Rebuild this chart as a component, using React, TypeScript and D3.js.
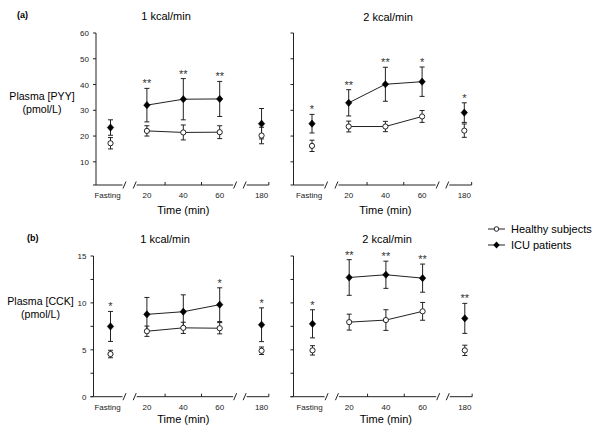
import React from "react";
import * as d3 from "d3";

const timeLabels = ["Fasting", "20", "40", "60", "180"];
const timeSlots = [0, 1, 2, 3, 4.15];

// Panel (a) PYY, 1 kcal/min
const pyy1Healthy = [17.2, 22.0, 21.4, 21.5, 20.2];
const pyy1HealthyErr = [2.2, 2.0, 2.9, 2.5, 3.2];
const pyy1ICU = [23.3, 32.0, 34.3, 34.4, 24.8];
const pyy1ICUErr = [3.0, 6.5, 8.0, 6.8, 5.9];
const pyy1Stars = ["", "**", "**", "**", ""];

// Panel (a) PYY, 2 kcal/min
const pyy2Healthy = [16.2, 23.7, 23.7, 27.6, 22.1];
const pyy2HealthyErr = [2.2, 2.1, 2.0, 2.3, 2.6];
const pyy2ICU = [24.8, 32.9, 40.1, 41.1, 29.1];
const pyy2ICUErr = [3.6, 5.1, 6.6, 5.7, 3.8];
const pyy2Stars = ["*", "**", "**", "*", "*"];

// Panel (b) CCK, 1 kcal/min
const cck1Healthy = [4.55, 6.98, 7.34, 7.3, 4.9];
const cck1HealthyErr = [0.4, 0.55, 0.6, 0.6, 0.4];
const cck1ICU = [7.49, 8.78, 9.06, 9.81, 7.67];
const cck1ICUErr = [1.6, 1.8, 1.8, 1.8, 1.8];
const cck1Stars = ["*", "", "", "*", "*"];

// Panel (b) CCK, 2 kcal/min
const cck2Healthy = [4.94, 7.95, 8.17, 9.1, 4.94];
const cck2HealthyErr = [0.5, 0.85, 1.1, 0.95, 0.55];
const cck2ICU = [7.77, 12.71, 13.0, 12.64, 8.35];
const cck2ICUErr = [1.5, 1.9, 1.45, 1.5, 1.6];
const cck2Stars = ["*", "**", "**", "**", "**"];

const pyyTicks = [10, 20, 30, 40, 50, 60];
const cckTicks = [0, 2.5, 5, 7.5, 10, 12.5, 15];
const cckLabelTicks = [0, 5, 10, 15];

const seriesNames = ["Healthy subjects", "ICU patients"];

const FONT = "'Liberation Sans', Arial, Helvetica, sans-serif";
const INK = "#222";

const yA = d3.scaleLinear().domain([1, 60]).range([185, 33]);
const yB = d3.scaleLinear().domain([0, 15]).range([396.7, 256]);

type PanelCfg = {
  axisX: number;
  fastX: number;
  step: number;
  y: d3.ScaleLinear<number, number>;
  yMin: number;
  ticks: number[];
  labelTicks: number[] | null;
  title: string;
  titleX: number;
  titleY: number;
  timeY: number;
  healthy: number[];
  healthyErr: number[];
  icu: number[];
  icuErr: number[];
  stars: string[];
};

const diamond = "M0,-3.6L3.2,0L0,3.6L-3.2,0Z";

function Panel({ cfg }: { cfg: PanelCfg }) {
  const x = d3
    .scaleLinear()
    .domain([0, 1])
    .range([cfg.fastX, cfg.fastX + cfg.step]);
  const y = cfg.y;
  const axisY = y(cfg.yMin);
  const topY = y(cfg.ticks[cfg.ticks.length - 1]);
  const segs: [number, number][] = [
    [x.invert(cfg.axisX), 0.33],
    [0.72, 3.37],
    [3.74, 4.35],
  ];
  const breaks = [0.33, 0.72, 3.37, 3.74];
  const midIdx = [1, 2, 3];
  const line = d3
    .line<number>()
    .x((i) => x(timeSlots[i]))
    .y((i) => 0);
  const pathFor = (vals: number[]) =>
    d3
      .line<number>()
      .x((i) => x(timeSlots[i]))
      .y((i) => y(vals[i]))(midIdx) || "";
  void line;

  const errBar = (xv: number, v: number, e: number, key: string) => (
    <g key={key} stroke={INK} strokeWidth={1}>
      <line x1={xv} x2={xv} y1={y(v - e)} y2={y(v + e)} />
      <line x1={xv - 2.5} x2={xv + 2.5} y1={y(v + e)} y2={y(v + e)} />
      <line x1={xv - 2.5} x2={xv + 2.5} y1={y(v - e)} y2={y(v - e)} />
    </g>
  );

  return (
    <g>
      {/* y axis */}
      <line x1={cfg.axisX} x2={cfg.axisX} y1={axisY} y2={topY} stroke={INK} strokeWidth={1} />
      {[cfg.yMin, ...cfg.ticks].map((t, i) => (
        <line key={"yt" + i} x1={cfg.axisX - 3} x2={cfg.axisX} y1={y(t)} y2={y(t)} stroke={INK} strokeWidth={1} />
      ))}
      {cfg.labelTicks &&
        cfg.labelTicks.map((t) => (
          <text key={"yl" + t} x={cfg.axisX - 7} y={y(t) + 3} textAnchor="end" fontSize={8} fill={INK} fontFamily={FONT}>
            {t}
          </text>
        ))}
      {/* x axis segments */}
      {segs.map((s, i) => (
        <line key={"seg" + i} x1={i === 0 ? cfg.axisX : x(s[0])} x2={x(s[1])} y1={axisY} y2={axisY} stroke={INK} strokeWidth={1} />
      ))}
      {breaks.map((b, i) => {
        const bx = x(b) + (i % 2 === 0 ? 2 : -2);
        return <line key={"br" + i} x1={bx - 1.5} x2={bx + 1.5} y1={axisY + 3.5} y2={axisY - 3.5} stroke={INK} strokeWidth={1} />;
      })}
      {[1.5, 2.5, 4.35].map((t, i) => (
        <line key={"xt" + i} x1={x(t)} x2={x(t)} y1={axisY} y2={axisY - 3} stroke={INK} strokeWidth={1} />
      ))}
      {timeLabels.map((l, i) => (
        <text
          key={"xl" + i}
          x={x(timeSlots[i]) - (i === 0 ? 3 : 0)}
          y={axisY + 13}
          textAnchor="middle"
          fontSize={8}
          fill={INK}
          fontFamily={FONT}
        >
          {l}
        </text>
      ))}
      <text x={x(2)} y={cfg.timeY} textAnchor="middle" fontSize={11} fill="#000" fontFamily={FONT}>
        Time (min)
      </text>
      <text x={cfg.titleX} y={cfg.titleY} textAnchor="middle" fontSize={11} fill="#000" fontFamily={FONT}>
        {cfg.title}
      </text>
      {/* error bars */}
      {cfg.icu.map((v, i) => errBar(x(timeSlots[i]), v, cfg.icuErr[i], "ie" + i))}
      {cfg.healthy.map((v, i) => errBar(x(timeSlots[i]), v, cfg.healthyErr[i], "he" + i))}
      {/* lines */}
      <path d={pathFor(cfg.icu)} fill="none" stroke={INK} strokeWidth={1} />
      <path d={pathFor(cfg.healthy)} fill="none" stroke={INK} strokeWidth={1} />
      {/* markers */}
      {cfg.icu.map((v, i) => (
        <path key={"im" + i} d={diamond} transform={`translate(${x(timeSlots[i])},${y(v)})`} fill="#000" stroke="#000" strokeWidth={0.6} />
      ))}
      {cfg.healthy.map((v, i) => (
        <circle key={"hm" + i} cx={x(timeSlots[i])} cy={y(v)} r={2.6} fill="#fff" stroke={INK} strokeWidth={1} />
      ))}
      {/* significance */}
      {cfg.stars.map((s, i) =>
        s ? (
          <text
            key={"st" + i}
            x={x(timeSlots[i])}
            y={y(cfg.icu[i] + cfg.icuErr[i]) - 1}
            textAnchor="middle"
            fontSize={11}
            fill="#333"
            fontFamily={FONT}
          >
            {s}
          </text>
        ) : null
      )}
    </g>
  );
}

export default function App() {
  const panels: PanelCfg[] = [
    {
      axisX: 96, fastX: 110.5, step: 36.4, y: yA, yMin: 1, ticks: pyyTicks, labelTicks: pyyTicks,
      title: "1 kcal/min", titleX: 166, titleY: 20, timeY: 214,
      healthy: pyy1Healthy, healthyErr: pyy1HealthyErr, icu: pyy1ICU, icuErr: pyy1ICUErr, stars: pyy1Stars,
    },
    {
      axisX: 293.5, fastX: 312, step: 36.7, y: yA, yMin: 1, ticks: pyyTicks, labelTicks: null,
      title: "2 kcal/min", titleX: 388, titleY: 20.5, timeY: 214,
      healthy: pyy2Healthy, healthyErr: pyy2HealthyErr, icu: pyy2ICU, icuErr: pyy2ICUErr, stars: pyy2Stars,
    },
    {
      axisX: 93.5, fastX: 110.5, step: 36.4, y: yB, yMin: 0, ticks: cckTicks, labelTicks: cckLabelTicks,
      title: "1 kcal/min", titleX: 165, titleY: 243, timeY: 423,
      healthy: cck1Healthy, healthyErr: cck1HealthyErr, icu: cck1ICU, icuErr: cck1ICUErr, stars: cck1Stars,
    },
    {
      axisX: 293.5, fastX: 312.5, step: 36.7, y: yB, yMin: 0, ticks: cckTicks, labelTicks: null,
      title: "2 kcal/min", titleX: 387, titleY: 243, timeY: 423,
      healthy: cck2Healthy, healthyErr: cck2HealthyErr, icu: cck2ICU, icuErr: cck2ICUErr, stars: cck2Stars,
    },
  ];

  return (
    <svg
      width={600}
      height={432}
      style={{ position: "absolute", left: 0, top: 0, background: "#fff" }}
      fontFamily={FONT}
    >
      <rect width={600} height={432} fill="#fff" />
      <text x={17} y={18} fontSize={9} fontWeight="bold" fill="#000">(a)</text>
      <text x={27} y={241} fontSize={9} fontWeight="bold" fill="#000">(b)</text>
      <text x={42} y={100} textAnchor="middle" fontSize={10.6} fill="#000">Plasma [PYY]</text>
      <text x={42} y={113} textAnchor="middle" fontSize={10.6} fill="#000">(pmol/L)</text>
      <text x={40.5} y={305} textAnchor="middle" fontSize={10.6} fill="#000">Plasma [CCK]</text>
      <text x={40.5} y={318} textAnchor="middle" fontSize={10.6} fill="#000">(pmol/L)</text>
      {panels.map((p, i) => (
        <Panel key={i} cfg={p} />
      ))}
      {/* legend */}
      <g>
        <line x1={488} x2={505} y1={229} y2={229} stroke={INK} strokeWidth={1} />
        <circle cx={496.5} cy={229} r={2.3} fill="#fff" stroke={INK} strokeWidth={1} />
        <text x={511} y={233} fontSize={11} fill="#000">{seriesNames[0]}</text>
        <line x1={488} x2={505} y1={245} y2={245} stroke={INK} strokeWidth={1} />
        <path d={diamond} transform="translate(496.5,245)" fill="#000" />
        <text x={511} y={249} fontSize={11} fill="#000">{seriesNames[1]}</text>
      </g>
    </svg>
  );
}
